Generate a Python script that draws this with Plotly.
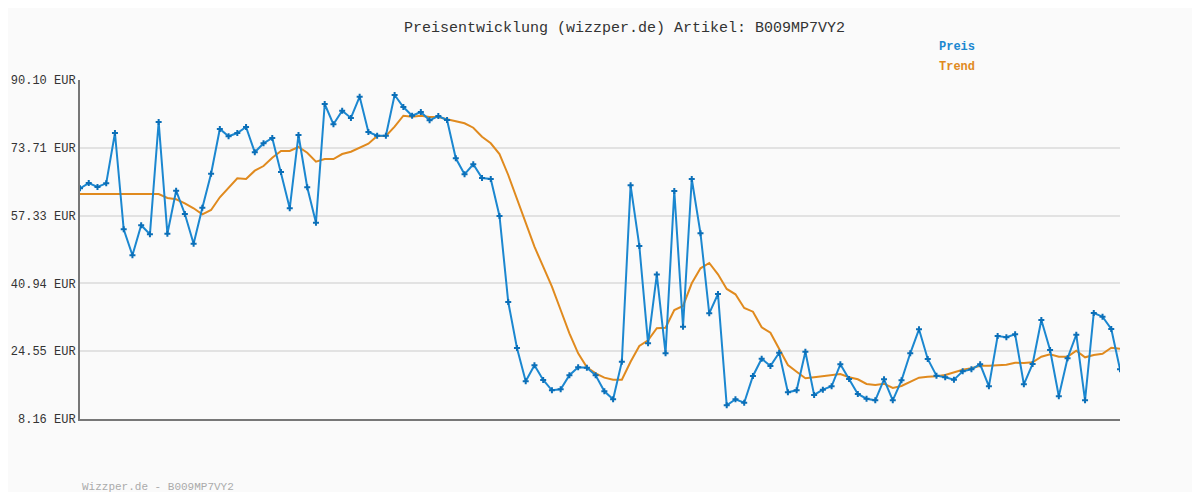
import plotly.graph_objects as go

preis = [
    63.92, 65.2, 64.24, 65.13, 77.29, 54.0, 47.73, 54.98, 52.8, 79.95,
    52.95, 63.34, 57.71, 50.53, 59.24, 67.45, 78.26, 76.49, 77.29, 78.74,
    72.63, 74.8, 76.08, 67.86, 59.09, 76.81, 64.17, 55.61, 84.3, 79.39,
    82.68, 80.92, 86.06, 77.53, 76.64, 76.64, 86.47, 83.57, 81.47, 82.37,
    80.36, 81.4, 80.43, 71.18,
    67.31, 69.73, 66.41, 66.17, 57.23, 36.44, 25.32, 17.28, 21.14, 17.59,
    15.1, 15.34, 18.73, 20.66, 20.56, 18.73, 14.86, 12.93, 22.01, 64.65,
    49.98, 26.46, 43.08, 24.04, 63.27, 30.47, 66.17, 53.05, 33.71, 38.38,
    11.47, 12.93, 12.1, 18.56, 22.74, 20.97, 24.19,
    14.62, 15.1, 24.43, 13.97, 15.25, 16.07, 21.38, 17.83, 14.21, 13.07,
    12.68, 17.76, 12.68, 17.52, 24.04, 29.84, 22.67, 18.63, 18.24, 17.66,
    19.69, 20.18, 21.38, 16.07, 28.22, 27.91, 28.63, 16.55, 21.46, 32.09,
    24.84, 13.65, 22.84, 28.54, 12.68, 33.78, 32.89, 29.92, 20.18,
]
trend = [62.55] * 10 + [
    61.58, 61.27, 60.3, 59.09, 57.64, 58.68, 61.75, 63.92, 66.34, 66.17,
    68.18, 69.31, 71.32, 72.94, 72.94, 73.91, 72.53, 70.35, 71.0, 71.0,
    72.21, 72.77, 73.74, 74.7, 76.56, 76.56, 78.81, 81.47, 81.23, 81.47,
    81.16, 81.16, 80.6, 80.12,
    79.63, 78.57, 76.4, 74.8, 72.21, 67.14, 61.27, 55.46, 49.81, 44.98,
    40.14, 34.51, 28.88, 24.04, 20.66, 19.21, 18.15, 17.66, 17.66, 21.99,
    25.81, 27.19, 30.09, 30.23, 34.51, 35.48, 40.96, 44.59, 45.87, 43.14,
    39.59, 38.3, 35.0, 34.1, 30.33, 29.02, 25.01,
    21.22, 19.6, 18.0, 18.24, 18.48, 18.63, 19.04, 18.24, 17.76, 16.62,
    16.38, 16.7, 15.66, 16.14, 17.18, 18.15, 18.39, 18.48, 18.8, 19.36,
    20.08, 20.42, 21.05, 21.05, 21.22, 21.29, 21.77, 21.7, 21.87, 23.22,
    23.8, 23.22, 23.22, 24.67, 23.07, 23.63, 23.94, 25.39, 25.15,
]
tick_vals = [8.16, 24.55, 40.94, 57.33, 73.71, 90.10]
x = list(range(len(preis)))

BLUE = "#1b87d0"
ORANGE = "#e08a1e"
MONO = "Liberation Mono, Courier New, monospace"

# page has an 8px body margin; plot area in page px: x 80..1120, y 80..419
OFF = 8
L, R, T, B = 80 - OFF, 1120 - OFF, 80 - OFF, 419 - OFF
W, H = 1184, 484


def px(xp, yp):
    return ((xp - OFF - L) / (R - L), (B - (yp - OFF)) / (B - T))


fig = go.Figure()
fig.add_trace(go.Scatter(x=x, y=trend, mode="lines", line={"color": ORANGE, "width": 2},
                         showlegend=False))
fig.add_trace(go.Scatter(x=x, y=preis, mode="lines+markers",
                         line={"color": BLUE, "width": 2},
                         marker={"symbol": "cross", "size": 5, "color": "#0b6fb8"},
                         showlegend=False))

annots = []
for text, (xp, yp), c, anchor, size in [
    ("Preisentwicklung (wizzper.de) Artikel: B009MP7VY2", (624, 28), "#333", "center", 15),
    ("<b>Preis</b>", (957, 47), BLUE, "center", 12),
    ("<b>Trend</b>", (957, 67), ORANGE, "center", 12),
    ("Wizzper.de - B009MP7VY2", (80, 487), "#aaa", "left", 11),
]:
    ax, ay = px(xp, yp)
    annots.append(dict(text=text, x=ax, y=ay, xref="paper", yref="paper",
                       xanchor=anchor, yanchor="middle", showarrow=False,
                       font={"family": MONO, "size": size, "color": c}))

fig.update_layout(
    width=W, height=H,
    paper_bgcolor="#fafafa", plot_bgcolor="#fafafa",
    margin={"l": L, "r": W - R, "t": T, "b": H - B},
    font={"family": MONO, "size": 12, "color": "#333"},
    annotations=annots,
)

fig.update_xaxes(range=[0, len(preis) - 1], showticklabels=False, showgrid=False,
                 zeroline=False, showline=True, linecolor="#777", linewidth=2,
                 automargin=False)
fig.update_yaxes(range=[8.16, 90.10], tickvals=tick_vals,
                 ticktext=[f"{v:.2f} EUR" for v in tick_vals],
                 showgrid=True, gridcolor="#e2e2e2", gridwidth=2, zeroline=False,
                 showline=True, linecolor="#777", linewidth=2,
                 ticks="outside", ticklen=0, automargin=False,
                 tickfont={"family": MONO, "size": 12, "color": "#333"})

fig.write_html("out.html")
